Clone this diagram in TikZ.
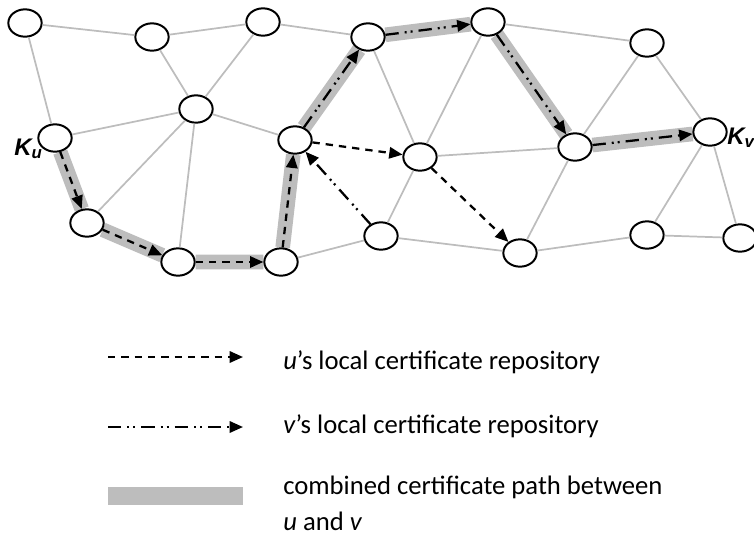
\documentclass[tikz,border=0pt]{standalone}
\usepackage{fontspec}
\setmainfont{Carlito}
\newfontfamily\keyfont{Liberation Sans}
\usetikzlibrary{shapes.geometric, arrows.meta, backgrounds}
\definecolor{linkGray}{gray}{0.74}
\definecolor{pathGray}{gray}{0.74}

\begin{document}
\begin{tikzpicture}[x=0.75pt, y=-0.75pt, >={Triangle[length=10pt, width=8.5pt]},
    peer/.style={ellipse, draw, line width=1.5pt, fill=white, minimum width=25pt, minimum height=20.5pt, inner sep=0pt},
    link/.style={linkGray, line width=1.3pt},
    certPath/.style={pathGray, line width=11pt},
    uRepo/.style={->, line width=1.7pt, dash pattern=on 5.5pt off 4.5pt},
    vRepo/.style={->, line width=1.7pt, dash pattern=on 10pt off 4.5pt on 1.5pt off 3pt on 1.5pt off 4.5pt},
    kLabel/.style={font=\keyfont\bfseries\itshape\fontsize{18}{20}\selectfont, anchor=base west, inner sep=0pt},
    legendText/.style={font=\fontsize{20}{24}\selectfont, anchor=base west, inner sep=0pt}]
    \useasboundingbox (0,0) rectangle (754,536);

    % peers, top row
    \node[peer] (t1) at (25,23) {};
    \node[peer] (t2) at (152,37) {};
    \node[peer] (t3) at (263,22) {};
    \node[peer] (t4) at (368,37) {};
    \node[peer] (t5) at (488,22) {};
    \node[peer] (t6) at (647,43) {};
    % middle
    \node[peer] (c) at (196,109) {};
    \node[peer] (ku) at (55,138) {};
    \node[peer] (w1) at (295,140) {};
    \node[peer] (w2) at (420,157) {};
    \node[peer] (w3) at (575,147) {};
    \node[peer] (kv) at (710,132) {};
    % bottom row
    \node[peer] (b1) at (87,223) {};
    \node[peer] (b2) at (178,262) {};
    \node[peer] (b3) at (281,262) {};
    \node[peer] (b4) at (381,236) {};
    \node[peer] (b5) at (520,253) {};
    \node[peer] (b6) at (647,235) {};
    \node[peer] (b7) at (740,238) {};

    \node[kLabel] (kuLabel) at (14,155) {K\textsubscript{u}};
    \node[kLabel] (kvLabel) at (727,144) {K\textsubscript{v}};

    % combined path
    \begin{pgfonlayer}{background}
        \draw[certPath] (ku) -- (b1) (b1) -- (b2) (b2) -- (b3) (b3) -- (w1);
        \draw[certPath] (w1) -- (t4) (t4) -- (t5) (t5) -- (w3) (w3) -- (kv);
    \end{pgfonlayer}

    % links
    \draw[link] (t1) -- (t2) (t2) -- (t3) (t3) -- (t4) (t1) -- (ku);
    \draw[link] (t2) -- (c) (t3) -- (c) (c) -- (ku) (c) -- (b1) (c) -- (b2) (c) -- (w1);
    \draw[link] (b3) -- (b4) (t4) -- (w2) (t5) -- (w2) (t5) -- (t6);
    \draw[link] (t6) -- (w3) (t6) -- (kv) (w2) -- (w3) (w2) -- (b4) (b4) -- (b5);
    \draw[link] (w3) -- (b5) (b5) -- (b6) (kv) -- (b6) (kv) -- (b7) (b6) -- (b7);

    % u's repository
    \draw[uRepo] (ku) -- (b1);
    \draw[uRepo] (b1) -- (b2);
    \draw[uRepo] (b2) -- (b3);
    \draw[uRepo] (b3) -- (w1);
    \draw[uRepo] (w1) -- (w2);
    \draw[uRepo] (w2) -- (b5);

    % v's repository
    \draw[vRepo] (b4) -- (w1);
    \draw[vRepo] (w1) -- (t4);
    \draw[vRepo] (t4) -- (t5);
    \draw[vRepo] (t5) -- (w3);
    \draw[vRepo] (w3) -- (kv);

    % legend
    \coordinate (uKeyA) at (108,357);
    \coordinate (uKeyB) at (243,357);
    \coordinate (vKeyA) at (108,427);
    \coordinate (vKeyB) at (243,427);
    \coordinate (pathKeyA) at (108,496);
    \coordinate (pathKeyB) at (243,496);
    \draw[uRepo] (uKeyA) -- (uKeyB);
    \draw[vRepo] (vKeyA) -- (vKeyB);
    \draw[certPath, line width=13.5pt] (pathKeyA) -- (pathKeyB);
    \node[legendText] (uKeyText) at (283,369) {\textit{u}’s local certificate repository};
    \node[legendText] (vKeyText) at (283,433) {\textit{v}’s local certificate repository};
    \node[legendText] (pathKeyText) at (283,494) {combined certificate path between};
    \node[legendText] (pathKeyText2) at (283,530) {\textit{u} and \textit{v}};
\end{tikzpicture}
\end{document}
